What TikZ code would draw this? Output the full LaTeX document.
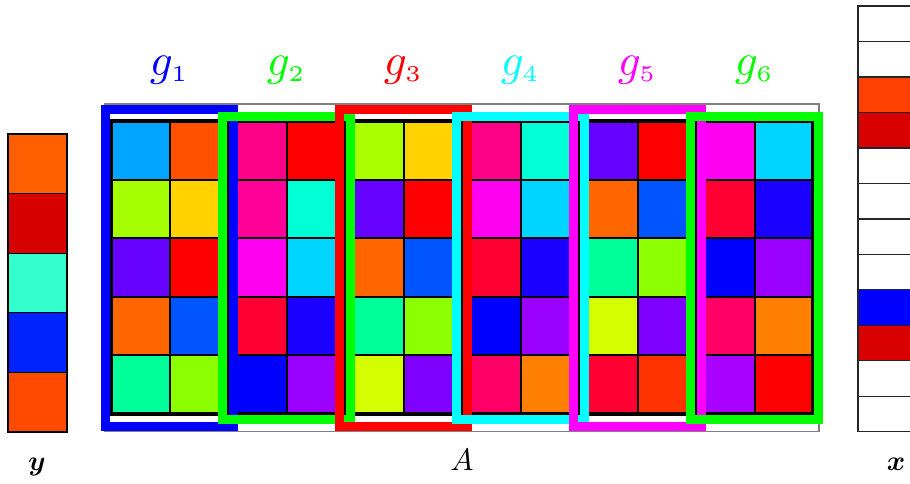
\documentclass[tikz,border=0pt]{standalone}
\usepackage{amsmath}
\definecolor{gblue}{HTML}{0000FF}
\definecolor{ggreen}{HTML}{00FF00}
\definecolor{gred}{HTML}{FF0000}
\definecolor{gcyan}{HTML}{00FFFF}
\definecolor{gmag}{HTML}{FF00FF}
\definecolor{vorange}{HTML}{FF5F00}
\definecolor{vdred}{HTML}{D70000}
\definecolor{vaqua}{HTML}{33FFCC}
\definecolor{vblue}{HTML}{0022FF}
\definecolor{vored}{HTML}{FF4A00}
\definecolor{xored}{HTML}{FF4000}
\definecolor{xdred}{HTML}{D80000}
\definecolor{xblue}{HTML}{0000FF}
\tikzset{
  cellbox/.style={draw=black, line width=2pt},
  vecbox/.style={draw=black, line width=1.3pt},
  framebox/.style={line width=9pt},
  lab/.style={anchor=base, inner sep=0pt},
  glab/.style={lab, scale=4.5},
}
\begin{document}
\begin{tikzpicture}[x=1pt,y=-1pt]
\useasboundingbox (0,0) rectangle (910,483);
\clip (0,0) rectangle (910,483);
% vector y
\foreach \c [count=\r] in {vorange,vdred,vaqua,vblue,vored} {
  \fill[\c] (8,{134+(\r-1)*59.6}) rectangle ++(59,59.6);
}
\foreach \r in {1,...,5} {
  \draw[vecbox] (8,{134+(\r-1)*59.6}) rectangle ++(59,59.6);
}
% vector x
\foreach \c [count=\r] in {white,white,xored,xdred,white,white,white,white,xblue,xdred,white,white} {
  \fill[\c] (858,{6+(\r-1)*35.48}) rectangle ++(70,35.48);
}
\foreach \r in {1,...,12} {
  \draw[vecbox, draw=black!85] (858,{6+(\r-1)*35.48}) rectangle ++(70,35.48);
}
% A frame
\draw[line width=1.2pt, black!50] (105,104) rectangle (819,431.5);
% matrix cells
\foreach \col/\colors in {
  1/{00A5FF,A5FF00,6600FF,FF6600,00FF99},
  2/{FF5000,FFD200,FF0000,0055FF,8CFF00},
  3/{FF0088,FF0099,FF00F0,FF0033,0000FF},
  4/{FF0000,00FFD5,00D5FF,1A00FF,9900FF},
  5/{AAFF00,6600FF,FF6600,00FF99,D5FF00},
  6/{FFD200,FF0000,0055FF,8CFF00,8000FF},
  7/{FF0088,FF00F0,FF0033,0000FF,FF0066},
  8/{00FFD5,00D5FF,1A00FF,9900FF,FF8000},
  9/{6600FF,FF6600,00FF99,D5FF00,FF0033},
  10/{FF0000,0055FF,8CFF00,8000FF,FF3300},
  11/{FF00F0,FF0033,0000FF,FF0066,AA00FF},
  12/{00D5FF,1A00FF,9900FF,FF8000,FF0000}} {
  \foreach \hx [count=\r] in \colors {
    \definecolor{tmpcell}{HTML}{\hx}
    \fill[tmpcell] ({111+(\col-1)*58.5},{121+(\r-1)*58.6}) rectangle ++(58.5,58.6);
  }
}
\foreach \col in {1,...,12} {
  \foreach \r in {1,...,5} {
    \draw[cellbox] ({111+(\col-1)*58.5},{121+(\r-1)*58.6}) rectangle ++(58.5,58.6);
  }
}
\draw[line width=3.5pt] (111,121) rectangle (813,414);
% group frames
\foreach \i/\gc in {1/gblue,2/ggreen,3/gred,4/gcyan,5/gmag,6/ggreen} {
  \pgfmathsetmacro{\xl}{111+(2*\i-2)*58.5-5.5}
  \pgfmathsetmacro{\xr}{111+2*\i*58.5+5.5}
  \pgfmathsetmacro{\yt}{ifthenelse(mod(\i,2)==1,109.5,116)}
  \pgfmathsetmacro{\yb}{ifthenelse(mod(\i,2)==1,426,419)}
  \draw[framebox, \gc] (\xl,\yt) rectangle (\xr,\yb);
}
% labels
\node[glab, text=gblue]  (g1) at (169.5,75) {$g_{\scriptscriptstyle 1}$};
\node[glab, text=ggreen] (g2) at (286.5,75) {$g_{\scriptscriptstyle 2}$};
\node[glab, text=gred]   (g3) at (403.5,75) {$g_{\scriptscriptstyle 3}$};
\node[glab, text=gcyan]  (g4) at (520.5,75) {$g_{\scriptscriptstyle 4}$};
\node[glab, text=gmag]   (g5) at (637.5,75) {$g_{\scriptscriptstyle 5}$};
\node[glab, text=ggreen] (g6) at (754.5,75) {$g_{\scriptscriptstyle 6}$};
\node[lab, scale=3.1] (Alab) at (462,470) {$A$};
\node[lab, scale=2.8] (ylab) at (37,470) {$\boldsymbol{y}$};
\node[lab, scale=2.8] (xlab) at (896,470) {$\boldsymbol{x}$};
\end{tikzpicture}
\end{document}
